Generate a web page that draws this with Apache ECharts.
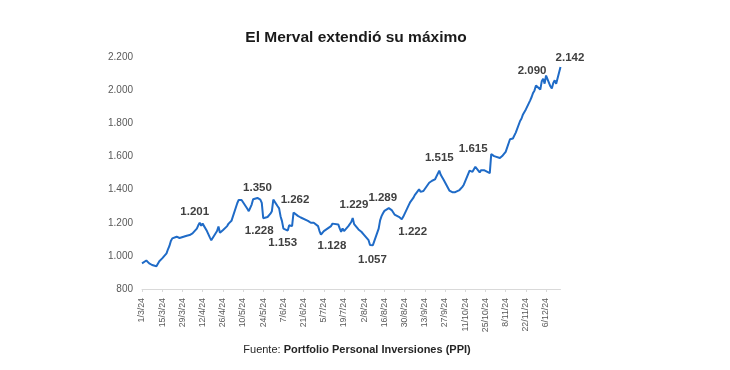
<!DOCTYPE html>
<html>
<head>
<meta charset="utf-8">
<script src="https://cdn.jsdelivr.net/npm/echarts@6/dist/echarts.min.js"></script>
<style>html,body{margin:0;padding:0;background:#fff;}#c{width:730px;height:370px;}</style>
</head>
<body>
<div id="c"></div>
<script>
// ---- DATA ----
const axisStart = '1/3/24';
const axisEnd = '16/12/24';
const yTicks = [800, 1000, 1200, 1400, 1600, 1800, 2000, 2200];

const dates = [
 '1/3/24','4/3/24','5/3/24','6/3/24','7/3/24','8/3/24','11/3/24','12/3/24','13/3/24','14/3/24','15/3/24','18/3/24','19/3/24','20/3/24','21/3/24','22/3/24','25/3/24','26/3/24','27/3/24','28/3/24',
 '1/4/24','2/4/24','3/4/24','4/4/24','5/4/24','8/4/24','9/4/24','10/4/24','11/4/24','12/4/24','15/4/24','16/4/24','17/4/24','18/4/24','19/4/24','22/4/24','23/4/24','24/4/24','25/4/24','26/4/24','29/4/24','30/4/24',
 '2/5/24','3/5/24','6/5/24','7/5/24','8/5/24','9/5/24','10/5/24','13/5/24','14/5/24','15/5/24','16/5/24','17/5/24','20/5/24','21/5/24','22/5/24','23/5/24','24/5/24','27/5/24','28/5/24','29/5/24','30/5/24','31/5/24',
 '3/6/24','4/6/24','5/6/24','6/6/24','7/6/24','10/6/24','11/6/24','12/6/24','13/6/24','14/6/24','17/6/24','18/6/24','19/6/24','20/6/24','24/6/24','25/6/24','26/6/24','27/6/24','28/6/24',
 '1/7/24','2/7/24','3/7/24','4/7/24','5/7/24','8/7/24','10/7/24','11/7/24','12/7/24','15/7/24','16/7/24','17/7/24','18/7/24','19/7/24','22/7/24','23/7/24','24/7/24','25/7/24','26/7/24','29/7/24','30/7/24','31/7/24',
 '1/8/24','2/8/24','5/8/24','6/8/24','7/8/24','8/8/24','9/8/24','12/8/24','13/8/24','14/8/24','15/8/24','16/8/24','19/8/24','20/8/24','21/8/24','22/8/24','23/8/24','26/8/24','27/8/24','28/8/24','29/8/24','30/8/24',
 '2/9/24','3/9/24','4/9/24','5/9/24','6/9/24','9/9/24','10/9/24','11/9/24','12/9/24','13/9/24','16/9/24','17/9/24','18/9/24','19/9/24','20/9/24','23/9/24','24/9/24','25/9/24','26/9/24','27/9/24','30/9/24',
 '1/10/24','2/10/24','3/10/24','4/10/24','7/10/24','8/10/24','9/10/24','10/10/24','11/10/24','14/10/24','15/10/24','16/10/24','17/10/24','18/10/24','21/10/24','22/10/24','23/10/24','24/10/24','25/10/24','28/10/24','29/10/24','30/10/24','31/10/24',
 '1/11/24','4/11/24','5/11/24','6/11/24','7/11/24','8/11/24','11/11/24','12/11/24','13/11/24','14/11/24','15/11/24','18/11/24','19/11/24','20/11/24','21/11/24','22/11/24','25/11/24','26/11/24','27/11/24','28/11/24','29/11/24',
 '2/12/24','3/12/24','4/12/24','5/12/24','6/12/24','9/12/24','10/12/24','11/12/24','12/12/24','13/12/24','16/12/24'
];
const values = [
 955,972,962,955,960,945,938,929,968,978,985,1015,1040,1060,1090,1106,1116,1106,1108,1112,
 1122,1124,1126,1130,1136,1165,1185,1201,1182,1195,1150,1140,1112,1095,1085,1150,1178,1140,1145,1155,1180,1195,
 1212,1222,1318,1338,1342,1338,1330,1285,1270,1268,1310,1342,1350,1338,1340,1320,1228,1235,1242,1255,1270,1340,
 1300,1287,1240,1210,1165,1153,1185,1192,1180,1262,1242,1238,1232,1228,1212,1208,1200,1198,1200,
 1180,1150,1128,1140,1150,1168,1180,1195,1200,1190,1166,1146,1166,1150,1180,1186,1205,1229,1192,1160,1156,1146,
 1140,1126,1095,1066,1057,1065,1075,1165,1215,1240,1258,1272,1289,1280,1277,1267,1250,1236,1230,1222,1236,1245,
 1310,1327,1337,1350,1367,1402,1387,1397,1392,1387,1442,1450,1454,1454,1462,1515,1490,1478,1460,1448,1395,
 1390,1385,1373,1385,1398,1387,1417,1430,1440,1515,1518,1508,1512,1538,1505,1518,1522,1518,1514,1500,1615,1605,1603,
 1597,1592,1600,1607,1615,1629,1705,1715,1709,1718,1745,1815,1830,1855,1870,1885,1940,1960,1985,2000,2030,
 2005,2055,2070,2041,2090,2025,2011,2045,2061,2040,2142
];
const labelledDates = ['10/4/24','20/5/24','24/5/24','10/6/24','14/6/24','3/7/24','25/7/24','7/8/24','19/8/24','28/8/24','23/9/24','29/10/24','6/12/24','16/12/24'];

// ---- BUILD ----
function parseD(s){const p=s.split('/');return Date.UTC(2000+ +p[2], +p[1]-1, +p[0]);}
function fmtD(t){const d=new Date(t);return d.getUTCDate()+'/'+(d.getUTCMonth()+1)+'/'+String(d.getUTCFullYear()).slice(2);}
const categories=[];
for(let t=parseD(axisStart);t<=parseD(axisEnd);t+=86400000) categories.push(fmtD(t));
function fmtNum(v){v=Math.round(v);if(v<1000)return String(v);const r=v%1000;return Math.floor(v/1000)+'.'+String(r).padStart(3,'0');}

const seriesData = dates.map((d,i)=>[d, values[i]]);
// label placement (style only)
const labelOffsets = {
 '10/4/24':[-5,-11],'20/5/24':[0,-10],'24/5/24':[-4,12.5],'10/6/24':[-5,12],'14/6/24':[1.5,-13],
 '3/7/24':[11,11.3],'25/7/24':[1.3,-13],'7/8/24':[1,13.6],'19/8/24':[-6,-10.7],'28/8/24':[11,12.6],
 '23/9/24':[0,-12.5],'29/10/24':[-18,-5],'6/12/24':[-14,-5],'16/12/24':[9.5,-9.3]
};
const markData = labelledDates.map(d=>{
  const v = values[dates.indexOf(d)];
  return {coord:[d, v], value:v, label:{offset: labelOffsets[d]}};
});

const FONT = 'Liberation Sans';
const chart = echarts.init(document.getElementById('c'), null, {renderer:'canvas'});
chart.setOption({
  backgroundColor:'#ffffff',
  animation:false,
  textStyle:{fontFamily:FONT},
  title:[
    {text:'El Merval extendió su máximo', left:351, top:25, textAlign:'center',
     textStyle:{fontFamily:FONT, fontSize:15.5, fontWeight:'bold', color:'#1a1a1a'}},
    {text:'{a|Fuente: }{b|Portfolio Personal Inversiones (PPI)}', left:352, top:339, textAlign:'center',
     textStyle:{fontWeight:'normal', rich:{a:{fontFamily:FONT,fontSize:11,fontWeight:'normal',color:'#262626'},b:{fontFamily:FONT,fontSize:11,fontWeight:'bold',color:'#262626'}}}}
  ],
  grid:{left:142, right:169.5, top:57.3, bottom:81, containLabel:false},
  xAxis:{
    type:'category', data:categories, boundaryGap:false,
    axisLine:{lineStyle:{color:'#d9d9d9', width:1}},
    axisTick:{show:true, interval:13, length:3, lineStyle:{color:'#d9d9d9'}},
    axisLabel:{interval:13, rotate:90, fontSize:8.8, color:'#595959', margin:9, fontFamily:FONT},
    splitLine:{show:false}
  },
  yAxis:{
    type:'value', min:yTicks[0], max:yTicks[yTicks.length-1], interval:yTicks[1]-yTicks[0],
    axisLine:{show:false}, axisTick:{show:false}, splitLine:{show:false},
    axisLabel:{fontSize:10, color:'#595959', margin:9, fontFamily:FONT, formatter:fmtNum}
  },
  series:[{
    type:'line', data:seriesData, showSymbol:false, symbol:'none',
    lineStyle:{color:'#1f6bc7', width:2}, itemStyle:{color:'#1f6bc7'},
    markPoint:{
      symbol:'circle', symbolSize:1, itemStyle:{color:'rgba(0,0,0,0)'},
      label:{show:true, position:'inside', fontFamily:FONT, fontSize:11.5, fontWeight:'bold', color:'#404040',
             formatter:p=>fmtNum(p.value)},
      data:markData
    }
  }]
});
</script>
</body>
</html>
